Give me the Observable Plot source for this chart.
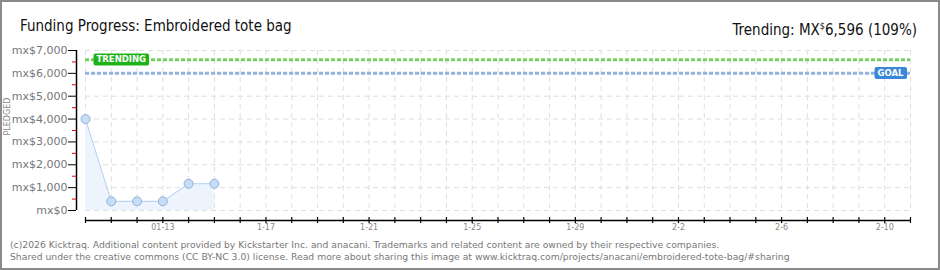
<!DOCTYPE html>
<html><head><meta charset="utf-8">
<script src="https://cdn.jsdelivr.net/npm/d3@7"></script>
<script src="https://cdn.jsdelivr.net/npm/@observablehq/plot@0.6"></script>
<style>
body{margin:0;background:#fff;}
#wrap{position:relative;width:940px;height:270px;overflow:hidden;background:#fff;}
#wrap svg{position:absolute;left:0;top:0;}
.border{position:absolute;left:0;top:0;right:0;bottom:0;border:2px solid #8a8a8a;pointer-events:none;}
.title{position:absolute;left:20px;top:17px;font:15px "DejaVu Sans Condensed","DejaVu Sans",sans-serif;color:#111;white-space:nowrap;line-height:18px;}
.trend{position:absolute;right:23px;top:17px;font:15px "DejaVu Sans Condensed","DejaVu Sans",sans-serif;color:#111;white-space:nowrap;line-height:18px;}
.trend sup{font-size:9px;vertical-align:6px;}
.foot{position:absolute;left:10px;font:9.25px "DejaVu Sans",sans-serif;color:#777;white-space:nowrap;line-height:12px;}
</style></head>
<body>
<div id="wrap">
  <div class="title">Funding Progress: Embroidered tote bag</div>
  <div class="trend">Trending: MX<sup>$</sup>6,596 (109%)</div>
  <div class="foot" style="top:239px">(c)2026 Kicktraq. Additional content provided by Kickstarter Inc. and anacani. Trademarks and related content are owned by their respective companies.</div>
  <div class="foot" style="top:251px">Shared under the creative commons (CC BY-NC 3.0) license. Read more about sharing this image at www.kicktraq.com/projects/anacani/embroidered-tote-bag/#sharing</div>
  <div class="border"></div>
</div>
<script>
// Data
const dates = ["2026-01-10","2026-01-11","2026-01-12","2026-01-13","2026-01-14","2026-01-15"];
const pledged = [4000, 400, 400, 400, 1170, 1170];
const goal = 6000;
const trending = 6596;
const xStart = "2026-01-10", xEnd = "2026-02-11";
const yTicks = [0,1000,2000,3000,4000,5000,6000,7000];
const yMinor = [500,1500,2500,3500,4500,5500,6500];
const xLabelDates = ["2026-01-13","2026-01-17","2026-01-21","2026-01-25","2026-01-29","2026-02-02","2026-02-06","2026-02-10"];
const xLabels = ["01-13","1-17","1-21","1-25","1-29","2-2","2-6","2-10"];

const parse = d3.utcParse("%Y-%m-%d");
const data = dates.map((d,i)=>({date: parse(d), value: pledged[i]}));
const days = d3.utcDay.range(parse(xStart), d3.utcDay.offset(parse(xEnd),1));
const labelDates = xLabelDates.map(parse);
const labelMap = new Map(labelDates.map((d,i)=>[+d, xLabels[i]]));
const fmt = d3.format(",");

const plot = Plot.plot({
  width: 940, height: 270,
  marginLeft: 85, marginRight: 30, marginTop: 50, marginBottom: 50,
  style: {background: "transparent", fontFamily: "DejaVu Sans, sans-serif", overflow: "visible"},
  x: {type: "utc", domain: [parse(xStart), parse(xEnd)], axis: null},
  y: {domain: [0, 7000], insetBottom: 10, axis: null},
  marks: [
    Plot.gridY(yTicks, {stroke: "#dedede", strokeOpacity: 1, strokeDasharray: "5,4"}),
    Plot.gridX(days, {stroke: "#dedede", strokeOpacity: 1, strokeDasharray: "5,4", insetBottom: 10}),
    Plot.areaY(data, {x: "date", y: "value", fill: "#edf4fd"}),
    Plot.line(data, {x: "date", y: "value", stroke: "#b3cff0", strokeWidth: 1}),
    Plot.ruleY([goal], {stroke: "#93b3df", strokeWidth: 3, strokeDasharray: "4,2"}),
    Plot.ruleY([trending], {stroke: "#79d062", strokeWidth: 3, strokeDasharray: "4,2"}),
    Plot.dot(data, {x: "date", y: "value", r: 4.5, fill: "#c7ddf7", stroke: "#8fb2dc", strokeWidth: 1}),
    Plot.ruleY([0], {dy: 10, stroke: "#000", strokeWidth: 1.5}),
    Plot.ruleX([parse(xStart)], {dx: -9, stroke: "#000", strokeWidth: 1.5, insetBottom: 10}),
    Plot.axisY(yTicks, {anchor: "left", dx: -9, tickSize: 8, tickPadding: 1, stroke: "#000", fill: "#777",
      tickFormat: d => "mx$" + fmt(d), fontSize: 11, label: null}),
    Plot.axisY(yMinor, {anchor: "left", dx: -9, tickSize: 4, stroke: "#e00", tickFormat: () => "", label: null}),
    Plot.axisX(days, {anchor: "bottom", tickSize: 6, dy: -3, stroke: "#000", strokeWidth: 1.2, tickFormat: () => "", label: null}),
    Plot.axisX(labelDates, {anchor: "bottom", tickSize: 0, tickPadding: 4, fill: "#888", fontSize: 8,
      tickFormat: d => labelMap.get(+d), label: null}),
    Plot.text(["PLEDGED"], {frameAnchor: "left", dx: -78, rotate: -90, fill: "#888", fontSize: 8, letterSpacing: 1}),
    Plot.text([trending], {y: d => d, frameAnchor: "left", dx: 11, text: () => "TRENDING", textAnchor: "start",
      fill: "#fff", fontSize: 8.5, fontWeight: "bold", className: "badge-trend"}),
    Plot.text([goal], {y: d => d, frameAnchor: "right", dx: -7, text: () => "GOAL", textAnchor: "end",
      fill: "#fff", fontSize: 8.5, fontWeight: "bold", className: "badge-goal"})
  ]
});
const wrap = document.getElementById("wrap");
wrap.insertBefore(plot, wrap.firstChild);

function badge(cls, color){
  plot.querySelectorAll("g." + cls + " text").forEach(t => {
    const b = t.getBBox();
    const r = document.createElementNS("http://www.w3.org/2000/svg","rect");
    r.setAttribute("x", b.x - 3); r.setAttribute("y", b.y - 1);
    r.setAttribute("width", b.width + 6); r.setAttribute("height", b.height + 2);
    r.setAttribute("rx", 2); r.setAttribute("fill", color);
    const tr = t.getAttribute("transform");
    if (tr) r.setAttribute("transform", tr);
    t.parentNode.insertBefore(r, t);
  });
}
badge("badge-trend", "#1fb31a");
badge("badge-goal", "#3b88d8");
</script>
</body></html>
